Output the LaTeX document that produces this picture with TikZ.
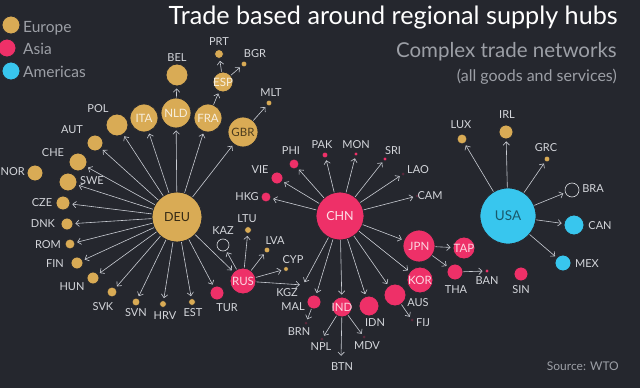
\documentclass[tikz,border=0pt]{standalone}
\usepackage{fontspec}
\setmainfont{Lato}
\usetikzlibrary{arrows.meta}

\definecolor{bgdark}{HTML}{25272E}
\definecolor{eugold}{HTML}{D9AB55}
\definecolor{aspink}{HTML}{EE3068}
\definecolor{amcyan}{HTML}{38C6EE}
\definecolor{edgegray}{HTML}{C9CCD3}
\definecolor{lblgray}{HTML}{D4D6DB}
\definecolor{subgray}{HTML}{9C9FA6}

\begin{document}
\begin{tikzpicture}[
  x=1pt, y=-1pt,
  % Node Styles
  cnode/.style={circle, draw=bgdark, line width=0.8pt, inner sep=0pt, minimum size=#1},
  eu/.style={cnode=#1, fill=eugold},
  as/.style={cnode=#1, fill=aspink},
  am/.style={cnode=#1, fill=amcyan},
  nodata/.style={circle, draw=lblgray!80, line width=0.6pt, inner sep=0pt, minimum size=#1},
  lbl/.style={text=lblgray, inner sep=0pt, font=\fontsize{11}{12}\selectfont},
  inlbl/.style={inner sep=0pt, font=\fontsize{11.5}{13}\selectfont},
  legtext/.style={text=subgray, anchor=base west, inner sep=0pt, font=\fontsize{15.5}{18}\selectfont},
  % Arrow Styles
  link/.style={-{Straight Barb[length=3.4pt,width=6.4pt]}, draw=edgegray, line width=0.6pt, shorten >=2pt},
]

\fill[bgdark] (0,0) rectangle (640,388);
\useasboundingbox (0,0) rectangle (640,388);

% Titles
\node[anchor=base east, text=white, inner sep=0pt, font=\fontsize{25.2}{30}\selectfont] (title) at (618,24) {Trade based around regional supply hubs};
\node[anchor=base east, text=subgray, inner sep=0pt, font=\fontsize{20.5}{24}\selectfont] (subtitle) at (617,57) {Complex trade networks};
\node[anchor=base east, text=subgray, inner sep=0pt, font=\fontsize{16}{19}\selectfont] (subnote) at (617,81) {(all goods and services)};
\node[anchor=base east, text=subgray, inner sep=0pt, font=\fontsize{12}{14}\selectfont] (source) at (619,370) {Source: WTO};

% Legend
\node[eu=18] (leg_eu) at (11,25) {};
\node[as=18] (leg_as) at (7,48) {};
\node[am=18] (leg_am) at (11,71) {};
\node[legtext] (leg_eu_t) at (23,32) {Europe};
\node[legtext] (leg_as_t) at (23,54) {Asia};
\node[legtext] (leg_am_t) at (23,77) {Americas};

% Hubs
\node[eu=50] (DEU) at (177,217) {};
\node[as=48] (CHN) at (340,216) {};
\node[am=56] (USA) at (508,216) {};
\node[inlbl, text=black!75!eugold, font=\fontsize{12.5}{14}\selectfont] at (DEU) {DEU};
\node[inlbl, text=white!85!aspink, font=\fontsize{12.5}{14}\selectfont] at (CHN) {CHN};
\node[inlbl, text=black!55!amcyan, font=\fontsize{13.5}{15}\selectfont] at (USA) {USA};

% Europe
\node[eu=22] (BEL) at (177,75) {};
\node[eu=9] (PRT) at (219,54) {};
\node[eu=6] (BGR) at (244,64) {};
\node[eu=20] (ESP) at (223,82) {};
\node[eu=6] (MLT) at (269,103) {};
\node[eu=22] (POL) at (117,125) {};
\node[eu=28] (ITA) at (144,118) {};
\node[eu=30] (NLD) at (176,113) {};
\node[eu=28] (FRA) at (208,118) {};
\node[eu=30] (GBR) at (243,132) {};
\node[eu=16] (AUT) at (95,143) {};
\node[eu=18] (CHE) at (78,162) {};
\node[eu=16] (NOR) at (35,173) {};
\node[eu=18] (SWE) at (68,182) {};
\node[eu=14] (CZE) at (63,203) {};
\node[eu=12] (DNK) at (67,224) {};
\node[eu=10] (ROM) at (70,244) {};
\node[eu=12] (FIN) at (77,263) {};
\node[eu=12] (HUN) at (93,278) {};
\node[eu=10] (SVK) at (112,292) {};
\node[eu=8] (SVN) at (136,302) {};
\node[eu=7] (HRV) at (163,304) {};
\node[eu=7] (EST) at (192,302) {};
\node[eu=7] (LTU) at (248,230) {};
\node[eu=6] (LVA) at (267,250) {};
\node[eu=5] (CYP) at (286,269) {};
\node[eu=10] (LUX) at (462,139) {};
\node[eu=14] (IRL) at (506,132) {};
\node[eu=6] (GRC) at (547,159) {};

\node[inlbl, text=white!80!eugold] at (ESP) {ESP};
\node[inlbl, text=white!80!eugold] at (ITA) {ITA};
\node[inlbl, text=white!80!eugold] at (NLD) {NLD};
\node[inlbl, text=white!80!eugold] at (FRA) {FRA};
\node[inlbl, text=black!65!eugold] at (GBR) {GBR};

% Asia
\node[as=26] (RUS) at (243,281) {};
\node[as=14] (TUR) at (217,293) {};
\node[nodata=12] (KAZ) at (223,245) {};
\node[circle, inner sep=0pt, minimum size=2] (KGZ) at (303,285) {};
\node[as=10] (HKG) at (266,197) {};
\node[as=12] (VIE) at (277,178) {};
\node[as=10] (PHI) at (294,164) {};
\node[as=6] (PAK) at (325,155) {};
\node[as=4] (MON) at (356,154) {};
\node[as=4] (SRI) at (385,159) {};
\node[as=3] (LAO) at (403,174) {};
\node[as=3] (CAM) at (417,196) {};
\node[as=32] (JPN) at (419,246) {};
\node[as=22] (TAP) at (464,248) {};
\node[as=26] (KOR) at (420,280) {};
\node[as=16] (THA) at (455,272) {};
\node[as=4] (BAN) at (487,271) {};
\node[as=14] (SIN) at (521,274) {};
\node[as=22] (AUS) at (395,295) {};
\node[as=20] (IDN) at (369,306) {};
\node[as=20] (IND) at (342,307) {};
\node[as=14] (MAL) at (314,302) {};
\node[as=3] (BRN) at (306,323) {};
\node[as=3] (NPL) at (322,339) {};
\node[as=3] (MDV) at (364,337) {};
\node[circle, inner sep=0pt, minimum size=2] (BTN) at (341,359) {};
\node[as=3] (FIJ) at (412,320) {};

\node[inlbl, text=white!80!aspink] at (RUS) {RUS};
\node[inlbl, text=white!80!aspink] at (JPN) {JPN};
\node[inlbl, text=white!80!aspink] at (TAP) {TAP};
\node[inlbl, text=white!80!aspink] at (KOR) {KOR};
\node[inlbl, text=white!80!aspink] at (IND) {IND};

% Americas
\node[nodata=14] (BRA) at (572,190) {};
\node[am=20] (CAN) at (574,225) {};
\node[am=16] (MEX) at (563,263) {};

% Labels
\node[lbl] (BEL_t) at (177,58) {BEL};
\node[lbl] (PRT_t) at (219,42) {PRT};
\node[lbl] (BGR_t) at (255,54) {BGR};
\node[lbl] (MLT_t) at (271,93) {MLT};
\node[lbl] (POL_t) at (98,109) {POL};
\node[lbl] (AUT_t) at (72,130) {AUT};
\node[lbl] (CHE_t) at (53,153) {CHE};
\node[lbl, anchor=east] (NOR_t) at (25,172) {NOR};
\node[lbl] (SWE_t) at (92,181) {SWE};
\node[lbl] (CZE_t) at (42,203) {CZE};
\node[lbl] (DNK_t) at (43,224) {DNK};
\node[lbl] (ROM_t) at (48,245) {ROM};
\node[lbl] (FIN_t) at (55,264) {FIN};
\node[lbl] (HUN_t) at (72,287) {HUN};
\node[lbl] (SVK_t) at (103,307) {SVK};
\node[lbl] (SVN_t) at (136,313) {SVN};
\node[lbl] (HRV_t) at (165,316) {HRV};
\node[lbl] (EST_t) at (193,313) {EST};
\node[lbl] (TUR_t) at (227,308) {TUR};
\node[lbl] (KAZ_t) at (223,231) {KAZ};
\node[lbl] (LTU_t) at (247,219) {LTU};
\node[lbl] (LVA_t) at (275,241) {LVA};
\node[lbl] (CYP_t) at (293,260) {CYP};
\node[lbl] (KGZ_t) at (287,293) {KGZ};
\node[lbl] (MAL_t) at (293,307) {MAL};
\node[lbl] (BRN_t) at (299,332) {BRN};
\node[lbl] (NPL_t) at (321,347) {NPL};
\node[lbl] (MDV_t) at (367,346) {MDV};
\node[lbl] (BTN_t) at (342,367) {BTN};
\node[lbl] (IDN_t) at (375,323) {IDN};
\node[lbl] (AUS_t) at (418,303) {AUS};
\node[lbl] (FIJ_t) at (423,323) {FIJ};
\node[lbl] (THA_t) at (456,290) {THA};
\node[lbl] (BAN_t) at (487,281) {BAN};
\node[lbl] (SIN_t) at (521,290) {SIN};
\node[lbl] (MEX_t) at (587,264) {MEX};
\node[lbl] (CAN_t) at (600,226) {CAN};
\node[lbl] (BRA_t) at (593,189) {BRA};
\node[lbl] (GRC_t) at (546,148) {GRC};
\node[lbl] (IRL_t) at (507,115) {IRL};
\node[lbl] (LUX_t) at (461,125) {LUX};
\node[lbl] (PHI_t) at (291,151) {PHI};
\node[lbl] (PAK_t) at (322,145) {PAK};
\node[lbl] (MON_t) at (356,145) {MON};
\node[lbl] (SRI_t) at (393,151) {SRI};
\node[lbl] (LAO_t) at (418,170) {LAO};
\node[lbl] (CAM_t) at (430,196) {CAM};
\node[lbl] (VIE_t) at (260,170) {VIE};
\node[lbl] (HKG_t) at (247,197) {HKG};

% Links
\foreach \dst in {POL,ITA,NLD,FRA,GBR,AUT,CHE,SWE,CZE,DNK,ROM,FIN,HUN,SVK,SVN,HRV,EST,TUR,RUS}
  \draw[link] (DEU) -- (\dst);
\draw[link] (NLD) -- (BEL);
\draw[link] (FRA) -- (ESP);
\draw[link] (ESP) -- (PRT);
\draw[link] (ESP) -- (BGR);
\draw[link] (GBR) -- (MLT);

\foreach \dst in {KAZ,LTU,LVA,CYP,KGZ}
  \draw[link] (RUS) -- (\dst);

\foreach \dst in {HKG,VIE,PHI,PAK,MON,SRI,LAO,CAM,JPN,KOR,AUS,IDN,IND,MAL,KGZ}
  \draw[link] (CHN) -- (\dst);
\draw[link] (JPN) -- (TAP);
\draw[link] (JPN) -- (THA);
\draw[link] (THA) -- (BAN);
\draw[link] (AUS) -- (FIJ);
\draw[link] (MAL) -- (BRN);
\draw[link] (IND) -- (NPL);
\draw[link] (IND) -- (BTN);
\draw[link] (IND) -- (MDV);

\foreach \dst in {LUX,IRL,GRC,BRA,CAN,MEX}
  \draw[link] (USA) -- (\dst);

\end{tikzpicture}
\end{document}
